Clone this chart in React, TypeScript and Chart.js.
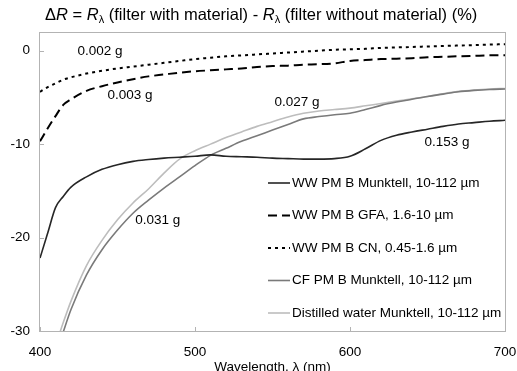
import React, { useEffect, useRef } from "react";
import { Chart, registerables } from "chart.js";

Chart.register(...registerables);

const wavelengths = [400, 405, 410, 415, 420, 430, 440, 450, 460, 470, 480, 490, 500, 510, 520, 530, 540, 550, 560, 570, 580, 590, 600, 610, 620, 630, 640, 650, 660, 670, 680, 690, 700];

const wwMunktell = [-22.2, -19.5, -16.8, -15.6, -14.6, -13.5, -12.7, -12.2, -11.85, -11.65, -11.5, -11.4, -11.3, -11.15, -11.3, -11.35, -11.4, -11.5, -11.55, -11.6, -11.6, -11.55, -11.3, -10.5, -9.6, -9.05, -8.7, -8.4, -8.1, -7.85, -7.7, -7.55, -7.45];
const wwGFA = [-9.7, -8.3, -7.0, -5.8, -5.2, -4.3, -3.8, -3.4, -3.05, -2.75, -2.55, -2.35, -2.2, -2.1, -2.0, -1.9, -1.75, -1.65, -1.6, -1.5, -1.45, -1.35, -1.1, -1.0, -0.9, -0.85, -0.8, -0.7, -0.65, -0.6, -0.55, -0.5, -0.5];
const wwCN = [-4.4, -3.9, -3.5, -3.1, -2.85, -2.45, -2.15, -1.9, -1.7, -1.5, -1.3, -1.1, -0.9, -0.75, -0.6, -0.5, -0.4, -0.3, -0.2, -0.1, 0.0, 0.1, 0.15, 0.2, 0.3, 0.35, 0.4, 0.45, 0.5, 0.55, 0.6, 0.65, 0.7];
const cfMunktell = [null, -35.0, -32.6, -30.1, -27.7, -24.0, -21.3, -19.2, -17.4, -16.0, -14.7, -13.5, -12.3, -11.2, -10.45, -9.7, -9.1, -8.5, -7.9, -7.3, -7.05, -6.85, -6.7, -6.3, -5.85, -5.5, -5.2, -4.9, -4.65, -4.4, -4.25, -4.15, -4.1];
const distilledWater = [null, -34.2, -31.6, -29.1, -26.8, -23.0, -20.3, -18.1, -16.3, -14.8, -13.1, -11.6, -10.7, -10.0, -9.3, -8.7, -8.1, -7.6, -7.1, -6.7, -6.45, -6.3, -6.15, -5.9, -5.65, -5.4, -5.15, -4.9, -4.6, -4.35, -4.2, -4.1, -4.05];

const seriesLabels = [
  "WW PM B Munktell, 10-112 µm",
  "WW PM B GFA, 1.6-10 µm",
  "WW PM B CN, 0.45-1.6 µm",
  "CF PM B Munktell, 10-112 µm",
  "Distilled water Munktell, 10-112 µm",
];
const seriesColors = ["#262626", "#000000", "#000000", "#7a7a7a", "#bdbdbd"];
const seriesDash = [[], [9, 5], [3, 4], [], []];
const seriesWidth = [1.6, 2, 2, 1.6, 1.6];

const massLabels = ["0.002 g", "0.003 g", "0.027 g", "0.153 g", "0.031 g"];
const massX = [438.7, 458, 565.8, 662.6, 476];
const massY = [-0.1, -4.8, -5.47, -9.75, -18.1];

const yTicks = [-30, -20, -10, 0];
const xTicks = [400, 500, 600, 700];

const FONT = "Liberation Sans, Arial, sans-serif";
const FS = 13.5;

function toPoints(vals: (number | null)[]) {
  return wavelengths.map((w, i) => ({ x: w, y: vals[i] }));
}

export default function App() {
  const ref = useRef<HTMLCanvasElement | null>(null);
  useEffect(() => {
    const canvas = ref.current!;
    const all = [wwMunktell, wwGFA, wwCN, cfMunktell, distilledWater];
    const frame = {
      id: "frame",
      beforeDatasetsDraw(chart: any) {
        const ctx = chart.ctx;
        const a = chart.chartArea;
        const xs = chart.scales.x;
        const ys = chart.scales.y;
        const L = Math.round(a.left) - 1;
        const R = Math.round(a.right);
        const T = Math.round(a.top);
        const B = Math.round(a.bottom);
        ctx.save();
        ctx.fillStyle = "#b3b3b3";
        ctx.fillRect(L, T, R - L + 1, 1);
        ctx.fillRect(L, B, R - L + 1, 1);
        ctx.fillRect(L, T, 1, B - T + 1);
        ctx.fillRect(R, T, 1, B - T + 1);
        yTicks.forEach((v) => {
          const y = Math.round(ys.getPixelForValue(v));
          ctx.fillRect(L, y, 5, 1);
        });
        xTicks.forEach((v) => {
          const x = Math.round(xs.getPixelForValue(v));
          ctx.fillRect(x, B - 4, 1, 5);
        });
        ctx.restore();
      },
    };
    const decor = {
      id: "decor",
      afterDraw(chart: any) {
        const ctx = chart.ctx;
        const a = chart.chartArea;
        const xs = chart.scales.x;
        const ys = chart.scales.y;
        ctx.save();
        // mass labels
        ctx.fillStyle = "#000";
        ctx.font = FS + "px " + FONT;
        ctx.textAlign = "center";
        ctx.textBaseline = "middle";
        massLabels.forEach((t, i) => {
          ctx.fillText(t, xs.getPixelForValue(massX[i]), ys.getPixelForValue(massY[i]));
        });

        // legend
        const lx0 = 268;
        const lx1 = 290;
        const ly0 = 183;
        const lstep = 32.5;
        ctx.textAlign = "left";
        seriesLabels.forEach((t, i) => {
          const y = ly0 + i * lstep;
          ctx.strokeStyle = seriesColors[i];
          ctx.lineWidth = seriesWidth[i];
          ctx.setLineDash(seriesDash[i]);
          ctx.beginPath();
          ctx.moveTo(lx0, y);
          ctx.lineTo(lx1, y);
          ctx.stroke();
          ctx.setLineDash([]);
          ctx.fillStyle = "#000";
          ctx.fillText(t, lx1 + 2, y);
        });

        // axis title (x)
        ctx.textAlign = "center";
        ctx.textBaseline = "alphabetic";
        ctx.fillText("Wavelength, λ (nm)", (a.left + a.right) / 2, 371);

        // y title at top
        const segs: [string, string][] = [
          ["Δ", "n"], ["R", "i"], [" = ", "n"], ["R", "i"], ["λ", "s"],
          [" (filter with material) - ", "n"], ["R", "i"], ["λ", "s"],
          [" (filter without material) (%)", "n"],
        ];
        let x = 45;
        const base = 20;
        segs.forEach(([t, k]) => {
          if (k === "i") ctx.font = "italic 16.5px " + FONT;
          else if (k === "s") ctx.font = "11px " + FONT;
          else ctx.font = "16.5px " + FONT;
          const yy = k === "s" ? base + 3 : base;
          ctx.textAlign = "left";
          ctx.fillText(t, x, yy);
          x += ctx.measureText(t).width;
        });
        ctx.restore();
      },
    };
    const chart = new Chart(canvas, {
      type: "line",
      data: {
        datasets: all.map((vals, i) => ({
          label: seriesLabels[i],
          data: toPoints(vals),
          borderColor: seriesColors[i],
          borderWidth: seriesWidth[i],
          borderDash: seriesDash[i],
          pointRadius: 0,
          cubicInterpolationMode: "monotone" as const,
          fill: false,
          spanGaps: false,
        })),
      },
      options: {
        responsive: false,
        animation: false,
        layout: { padding: { top: 32, right: 12, left: 0, bottom: 0 } },
        plugins: { legend: { display: false }, tooltip: { enabled: false } },
        scales: {
          x: {
            type: "linear",
            min: 400,
            max: 700,
            afterBuildTicks: (s: any) => { s.ticks = xTicks.map((v) => ({ value: v })); },
            afterFit: (s: any) => { s.height = 40; s.paddingLeft = 0; s.paddingRight = 0; },
            grid: { display: false, drawTicks: false },
            border: { display: false },
            ticks: { padding: 13, color: "#000", font: { family: FONT, size: FS }, maxRotation: 0 },
          },
          y: {
            type: "linear",
            min: -30,
            max: 2,
            afterBuildTicks: (s: any) => { s.ticks = yTicks.map((v) => ({ value: v })); },
            afterFit: (s: any) => { s.width = 40; s.paddingTop = 0; s.paddingBottom = 0; },
            grid: { display: false, drawTicks: false },
            border: { display: false },
            ticks: { padding: 10, color: "#000", font: { family: FONT, size: FS } },
          },
        },
      },
      plugins: [frame, decor],
    });
    return () => chart.destroy();
  }, []);
  return (
    <div style={{ position: "fixed", left: 0, top: 0, width: 517, height: 371, background: "#fff" }}>
      <canvas ref={ref} width={517} height={371} />
    </div>
  );
}
